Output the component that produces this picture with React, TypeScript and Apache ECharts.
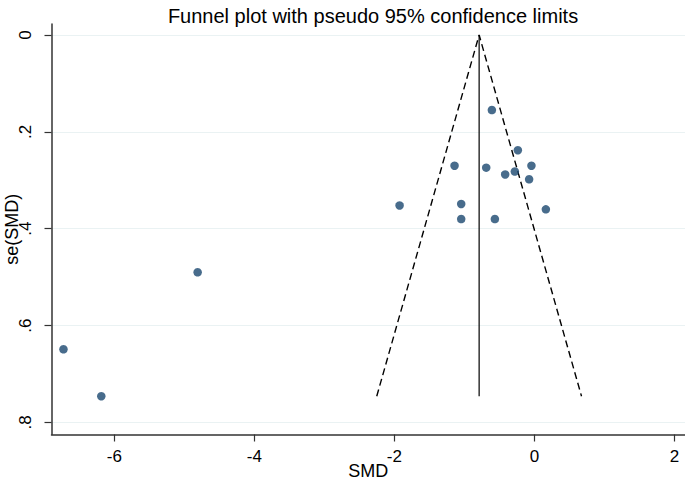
import React, { useEffect, useRef } from "react";
import * as echarts from "echarts";

const smd = [-0.608, -0.237, -1.141, -0.689, -0.043, -0.418, -0.28, -0.076, -1.926, -1.046, -1.046, -0.565, 0.163, -4.81, -6.726, -6.186];
const seSmd = [0.155, 0.238, 0.27, 0.274, 0.27, 0.288, 0.282, 0.298, 0.352, 0.349, 0.38, 0.38, 0.36, 0.49, 0.649, 0.746];
const pooled = -0.79;
const seMax = 0.746;
const xTicks = [-6, -4, -2, 0, 2];
const yTicks = [0, 0.2, 0.4, 0.6, 0.8];
const yTickLabels = ["0", ".2", ".4", ".6", ".8"];

export default function App() {
  const ref = useRef<HTMLDivElement>(null);
  useEffect(() => {
    if (!ref.current) return;
    const chart = echarts.init(ref.current, null, { renderer: "svg" });
    const font = "Liberation Sans, Arial, sans-serif";
    const points = smd.map((v, i) => [v, seSmd[i]]);
    const funnel = [
      [pooled - 1.96 * seMax, seMax],
      [pooled, 0],
      [pooled + 1.96 * seMax, seMax],
    ];
    chart.setOption({
      animation: false,
      backgroundColor: "#ffffff",
      title: {
        text: "Funnel plot with pseudo 95% confidence limits",
        left: 368,
        textAlign: "center",
        top: 1,
        textStyle: { fontFamily: font, fontSize: 20, fontWeight: "normal", color: "#000" },
      },
      grid: { left: 51.5, right: 0, top: 24, bottom: 47.5, outerBoundsMode: "none", containLabel: false },
      xAxis: {
        type: "value",
        min: -6.897,
        max: 2.15,
        name: "SMD",
        nameLocation: "middle",
        nameGap: 27,
        nameMoveOverlap: false,
        nameTextStyle: { fontFamily: font, fontSize: 18, color: "#000" },
        axisLine: { show: true, onZero: false, lineStyle: { color: "#333", width: 1.5 } },
        axisTick: { show: true, customValues: xTicks, length: 7, lineStyle: { color: "#333", width: 1.2 } },
        axisLabel: {
          customValues: xTicks,
          fontFamily: font,
          fontSize: 17,
          color: "#000",
          margin: 13,
          formatter: (v: number) => String(v),
        },
        splitLine: { show: false },
      },
      yAxis: {
        type: "value",
        inverse: true,
        min: -0.0227,
        max: 0.825,
        name: "se(SMD)",
        nameLocation: "middle",
        nameGap: 31,
        nameMoveOverlap: false,
        nameRotate: 90,
        nameTextStyle: { fontFamily: font, fontSize: 18, color: "#000" },
        axisLine: { show: true, onZero: false, lineStyle: { color: "#333", width: 1.5 } },
        axisTick: { show: true, customValues: yTicks, length: 7, lineStyle: { color: "#333", width: 1.2 } },
        axisLabel: {
          customValues: yTicks,
          rotate: 90,
          fontFamily: font,
          fontSize: 17,
          color: "#000",
          margin: 18,
          formatter: (v: number) => {
            const i = yTicks.findIndex((t) => Math.abs(t - v) < 1e-6);
            return i >= 0 ? yTickLabels[i] : "";
          },
        },
        splitLine: { show: true, lineStyle: { color: "#eaf2f3", width: 1.2 } },
      },
      series: [
        {
          type: "line",
          data: funnel,
          symbol: "none",
          lineStyle: { color: "#000", width: 1.4, type: [7, 4] },
          z: 2,
        },
        {
          type: "line",
          data: [
            [pooled, 0],
            [pooled, seMax],
          ],
          symbol: "none",
          lineStyle: { color: "#000", width: 1.2 },
          z: 2,
        },
        {
          type: "scatter",
          data: points,
          symbolSize: 8.5,
          itemStyle: { color: "#1a476f" },
          z: 3,
        },
      ],
    });
    return () => chart.dispose();
  }, []);
  return (
    <div
      ref={ref}
      style={{ position: "fixed", left: 0, top: 0, width: 685, height: 482 }}
    />
  );
}
